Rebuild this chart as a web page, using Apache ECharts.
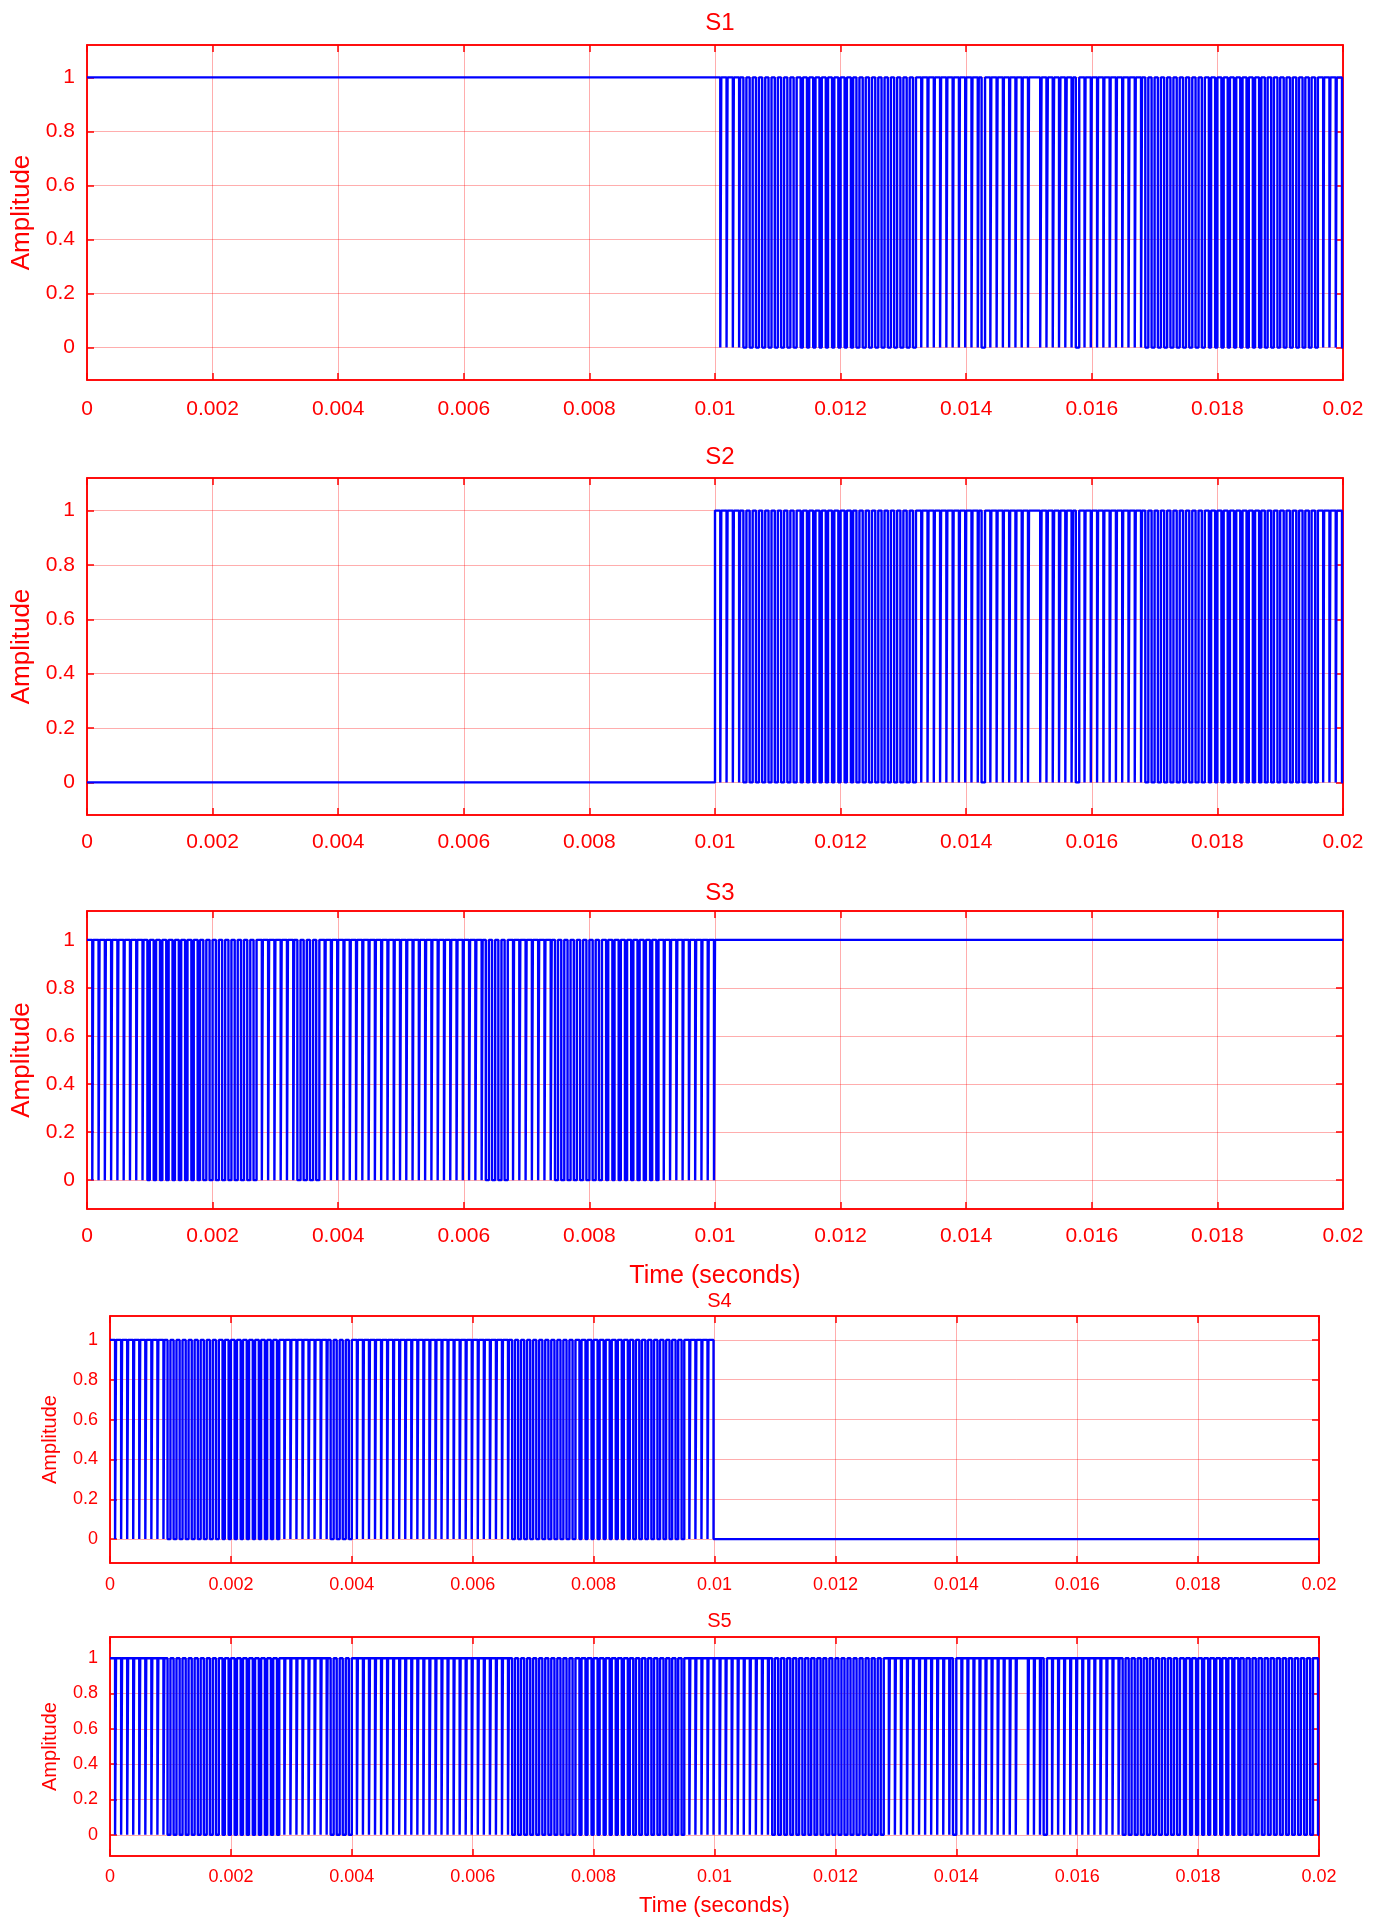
<!DOCTYPE html>
<html><head><meta charset="utf-8">
<script src="https://cdn.jsdelivr.net/npm/echarts@6/dist/echarts.min.js"></script>
<style>html,body{margin:0;padding:0;background:#fff}#c{width:1382px;height:1918px}</style>
</head><body><div id="c"></div>
<script>
// ---- data ----
const panelTitles = ['S1', 'S2', 'S3', 'S4', 'S5'];
const xTickValues = [0, 0.002, 0.004, 0.006, 0.008, 0.01, 0.012, 0.014, 0.016, 0.018, 0.02];
const yTickValues = [0, 0.2, 0.4, 0.6, 0.8, 1];
const carrierPeriod = 0.0001; // s, spacing of the switching lines

// steady stretches: [start, end, level]
const s1Steady = [[0, 0.01, 1]];
const s2Steady = [[0, 0.01, 0]];
const s3Steady = [[0.01, 0.02, 1]];
const s4Steady = [[0.01, 0.02, 0]];
const s5Steady = [];

// switching stretches: [start, end, fraction of each period spent high]
const s1Pulses = [
  [0.0100, 0.0104, 0.84], [0.0104, 0.0113, 0.52], [0.0113, 0.0122, 0.64],
  [0.0122, 0.0132, 0.52], [0.0132, 0.0142, 0.84], [0.0142, 0.0143, 0.45],
  [0.0143, 0.0150, 0.84], [0.0150, 0.0151, 1.0], [0.0151, 0.0157, 0.78],
  [0.0157, 0.0158, 0.45], [0.0158, 0.0168, 0.84], [0.0168, 0.0178, 0.52],
  [0.0178, 0.0187, 0.64], [0.0187, 0.0196, 0.56], [0.0196, 0.0200, 0.84]
];
const s2Pulses = [
  [0.0100, 0.0104, 0.84], [0.0104, 0.0113, 0.52], [0.0113, 0.0122, 0.64],
  [0.0122, 0.0132, 0.52], [0.0132, 0.0142, 0.84], [0.0142, 0.0143, 0.45],
  [0.0143, 0.0150, 0.84], [0.0150, 0.0151, 1.0], [0.0151, 0.0157, 0.78],
  [0.0157, 0.0158, 0.45], [0.0158, 0.0168, 0.84], [0.0168, 0.0178, 0.52],
  [0.0178, 0.0187, 0.64], [0.0187, 0.0196, 0.56], [0.0196, 0.0200, 0.84]
];
const s3Pulses = [
  [0, 0.0009, 0.84], [0.0009, 0.0018, 0.62], [0.0018, 0.0027, 0.52],
  [0.0027, 0.0033, 0.84], [0.0033, 0.0037, 0.5], [0.0037, 0.0063, 0.84],
  [0.0063, 0.0067, 0.5], [0.0067, 0.0074, 0.84], [0.0074, 0.0082, 0.52],
  [0.0082, 0.0091, 0.66], [0.0091, 0.0100, 0.84]
];
const s4Pulses = [
  [0, 0.0009, 0.84], [0.0009, 0.0018, 0.52], [0.0018, 0.0028, 0.62],
  [0.0028, 0.0036, 0.84], [0.0036, 0.0040, 0.5], [0.0040, 0.0066, 0.84],
  [0.0066, 0.0077, 0.52], [0.0077, 0.0086, 0.66], [0.0086, 0.0095, 0.56],
  [0.0095, 0.0100, 0.84]
];
const s5Pulses = [
  [0, 0.0009, 0.84], [0.0009, 0.0018, 0.52], [0.0018, 0.0028, 0.62],
  [0.0028, 0.0036, 0.84], [0.0036, 0.0040, 0.5], [0.0040, 0.0066, 0.84],
  [0.0066, 0.0077, 0.52], [0.0077, 0.0086, 0.66], [0.0086, 0.0095, 0.56],
  [0.0095, 0.0109, 0.84], [0.0109, 0.0118, 0.54], [0.0118, 0.0128, 0.5],
  [0.0128, 0.0139, 0.84], [0.0139, 0.0140, 0.45], [0.0140, 0.0150, 0.84],
  [0.0150, 0.0151, 1.0], [0.0151, 0.0154, 0.84], [0.0154, 0.0155, 0.45],
  [0.0155, 0.0167, 0.84], [0.0167, 0.0177, 0.52], [0.0177, 0.0187, 0.66],
  [0.0187, 0.0199, 0.54], [0.0199, 0.0200, 0.84]
];

const signalSteady = [s1Steady, s2Steady, s3Steady, s4Steady, s5Steady];
const signalPulses = [s1Pulses, s2Pulses, s3Pulses, s4Pulses, s5Pulses];

// ---- layout ----
const RED = '#ff0000';
const GRIDC = 'rgba(255,0,0,0.32)';
const BLUE = '#0000ff';
const FONT = "'Liberation Sans', Arial, Helvetica, sans-serif";
const panels = [
  {left: 87,  width: 1256, top: 45,   height: 335, tick: 21, lab: 26, ttl: 24, tickGap: 19, nameGap: 52, xName: '', titleTop: 6},
  {left: 87,  width: 1256, top: 478,  height: 337, tick: 21, lab: 26, ttl: 24, tickGap: 17, nameGap: 52, xName: '', titleTop: 440},
  {left: 87,  width: 1256, top: 911,  height: 298, tick: 21, lab: 26, ttl: 24, tickGap: 17, nameGap: 52, xName: 'Time (seconds)', xNameGap: 55, xNameSize: 25, titleTop: 876},
  {left: 110, width: 1209, top: 1316, height: 247, tick: 18, lab: 20, ttl: 20, tickGap: 13, nameGap: 50, xName: '', titleTop: 1286},
  {left: 110, width: 1209, top: 1637, height: 220, tick: 18, lab: 20, ttl: 20, tickGap: 12, nameGap: 50, xName: 'Time (seconds)', xNameGap: 39, xNameSize: 22, titleTop: 1606}
];

function buildSignal(steady, pulses) {
  const T = carrierPeriod;
  const pieces = steady.map(s => ({a: s[0], b: s[1], level: s[2]}))
    .concat(pulses.map(p => ({a: p[0], b: p[1], f: p[2]})));
  pieces.sort((p, q) => p.a - q.a);
  const pts = [];
  let last = null;
  pieces.forEach(p => {
    if (p.level !== undefined) { pts.push([p.a, p.level]); last = p.level; return; }
    const k0 = Math.round(p.a / T), k1 = Math.round(p.b / T);
    for (let k = k0; k < k1; k++) {
      const t = k * T;
      pts.push([t, 1]);
      if (p.f < 1) pts.push([t + p.f * T, 0]);
    }
    last = p.f < 1 ? 0 : 1;
  });
  const end = Math.max.apply(null, pieces.map(p => p.b));
  pts.push([end, last]);
  return pts;
}

const fmtX = v => String(+(+v).toFixed(4));
const fmtY = v => String(+(+v).toFixed(2));

const grid = [], xAxis = [], yAxis = [], series = [], title = [];
panels.forEach((P, i) => {
  grid.push({left: P.left, top: P.top, width: P.width, height: P.height, show: true,
    borderColor: RED, borderWidth: 1.5, backgroundColor: '#fff', containLabel: false});
  title.push({text: panelTitles[i], left: P.left + P.width / 2, top: P.titleTop, textAlign: 'center',
    textStyle: {color: RED, fontFamily: FONT, fontWeight: 'normal', fontSize: P.ttl}});
  const common = {type: 'value', gridIndex: i, min: 0, max: 0.02, interval: 0.002,
    axisLine: {show: true, onZero: false, lineStyle: {color: RED, width: 1.5}},
    axisTick: {show: true, inside: true, length: 7, lineStyle: {color: RED, width: 1.5}}};
  xAxis.push(Object.assign({}, common, {position: 'bottom',
    name: P.xName, nameLocation: 'middle', nameGap: P.xNameGap || 30,
    nameTextStyle: {color: RED, fontFamily: FONT, fontSize: P.xNameSize || 20},
    axisLabel: {show: true, color: RED, fontFamily: FONT, fontSize: P.tick, margin: P.tickGap,
      formatter: fmtX, showMinLabel: true, showMaxLabel: true},
    splitLine: {show: true, lineStyle: {color: GRIDC, width: 1}}}));
  xAxis.push(Object.assign({}, common, {position: 'top', axisLabel: {show: false}, splitLine: {show: false}}));
  const ycommon = {type: 'value', gridIndex: i, min: -0.12, max: 1.12,
    axisLine: {show: true, onZero: false, lineStyle: {color: RED, width: 1.5}},
    axisTick: {show: true, inside: true, length: 7, customValues: yTickValues, lineStyle: {color: RED, width: 1.5}}};
  yAxis.push(Object.assign({}, ycommon, {position: 'left',
    name: 'Amplitude', nameLocation: 'middle', nameGap: P.nameGap, nameRotate: 90,
    nameTextStyle: {color: RED, fontFamily: FONT, fontSize: P.lab},
    axisLabel: {show: true, customValues: yTickValues, color: RED, fontFamily: FONT, fontSize: P.tick, margin: 12, formatter: fmtY},
    splitLine: {show: true, lineStyle: {color: GRIDC, width: 1}}}));
  yAxis.push(Object.assign({}, ycommon, {position: 'right', axisLabel: {show: false}, splitLine: {show: false}}));
  series.push({type: 'line', name: panelTitles[i], xAxisIndex: 2 * i, yAxisIndex: 2 * i,
    data: buildSignal(signalSteady[i], signalPulses[i]), step: 'end',
    showSymbol: false, symbol: 'none', sampling: null, animation: false, z: 3,
    lineStyle: {color: BLUE, width: 2.4}, emphasis: {disabled: true}});
});

const chart = echarts.init(document.getElementById('c'), null, {renderer: 'canvas'});
chart.setOption({animation: false, backgroundColor: '#fff', title, grid, xAxis, yAxis, series});
</script></body></html>
